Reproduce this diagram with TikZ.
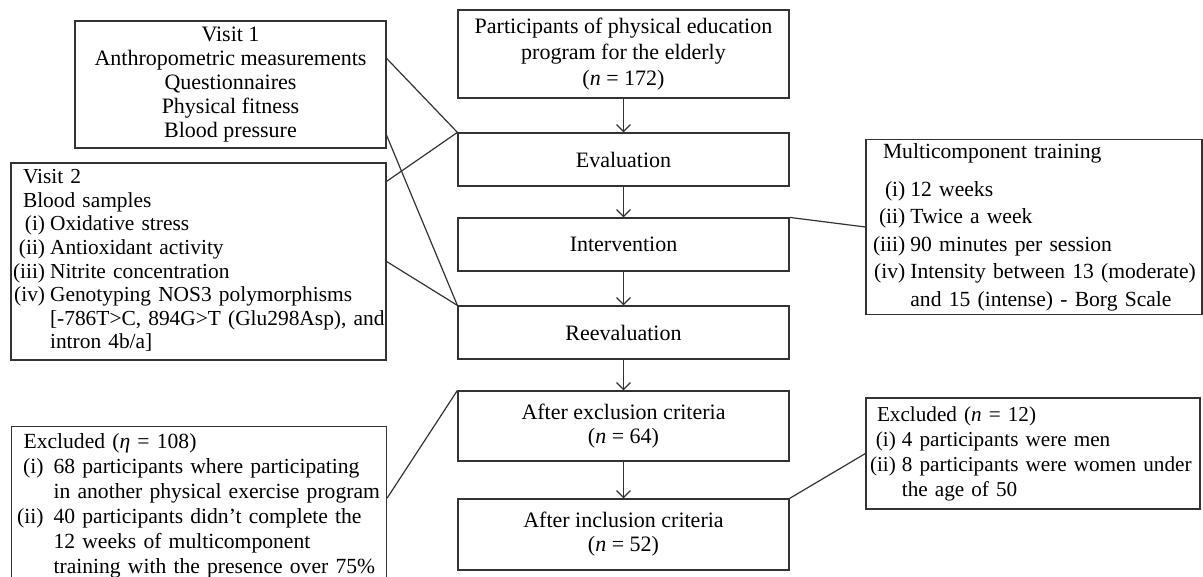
\documentclass[tikz,border=0pt]{standalone}
\usepackage{fontspec}
\setmainfont{Liberation Serif}
\usetikzlibrary{arrows.meta, calc}
\definecolor{CLine}{HTML}{333333}

\tikzset{
  flowbox/.style={draw=CLine, line width=0.6pt, inner sep=0pt, minimum width=165.5pt,
    align=center, font=\fontsize{11}{12}\selectfont},
  sidebox/.style={draw=CLine, line width=0.6pt, inner xsep=0pt, inner ysep=0pt,
    font=\fontsize{11}{12}\selectfont},
  flowarrow/.style={-{Straight Barb[length=3.5pt,width=7pt]}, CLine, line width=0.6pt},
  linkline/.style={CLine, line width=0.6pt}
}

\begin{document}
\begin{tikzpicture}[x=0.5pt, y=-0.5pt]
    \useasboundingbox (0,0) rectangle (1203,577);
    \clip (0,0) rectangle (1203,577);

    % Main column
    \node[flowbox, minimum height=44pt, font=\fontsize{11}{13}\selectfont] (part) at (623.5,54)
        {Participants of physical education\\program for the elderly\\(\textit{n} = 172)};
    \node[flowbox, minimum height=26.5pt] (eval) at (623.5,159.5) {Evaluation};
    \node[flowbox, minimum height=26.5pt] (interv) at (623.5,244.5) {Intervention};
    \node[flowbox, minimum height=26.5pt] (reeval) at (623.5,332.5) {Reevaluation};
    \node[flowbox, minimum height=35pt] (afterex) at (623.5,426)
        {After exclusion criteria\\(\textit{n} = 64)};
    \node[flowbox, minimum height=35.5pt] (afterin) at (623.5,534.5)
        {After inclusion criteria\\(\textit{n} = 52)};

    \draw[flowarrow] (part) -- (eval);
    \draw[flowarrow] (eval) -- (interv);
    \draw[flowarrow] (interv) -- (reeval);
    \draw[flowarrow] (reeval) -- (afterex);
    \draw[flowarrow] (afterex) -- (afterin);

    % Visits (left)
    \node[flowbox, minimum width=155.5pt, minimum height=63.5pt] (visit1) at (230.5,84.5)
        {Visit 1\\Anthropometric measurements\\Questionnaires\\Physical fitness\\Blood pressure};
    \node[sidebox, text width=187.5pt, minimum height=98.5pt,
        font=\fontsize{10.7}{11.8}\selectfont] (visit2) at (198.5,261.5) {%
        \begin{tabular}{@{\hspace{1pt}}r@{\hspace{2.5pt}}l@{}}
        \multicolumn{2}{@{\hspace{6pt}}l@{}}{Visit 2}\\
        \multicolumn{2}{@{\hspace{6pt}}l@{}}{Blood samples}\\
        (i) & Oxidative stress\\
        (ii) & Antioxidant activity\\
        (iii) & Nitrite concentration\\
        (iv) & Genotyping NOS3 polymorphisms\\
         & [-786T>C, 894G>T (Glu298Asp), and\\
         & intron 4b/a]
        \end{tabular}};

    % Excluded (left)
    \node[sidebox, text width=187.5pt, inner ysep=2pt, anchor=north west,
        font=\fontsize{10.8}{12.5}\selectfont] (exclL) at (11,426) {%
        \begin{tabular}{@{\hspace{2.8pt}}r@{\hspace{5pt}}l@{}}
        \multicolumn{2}{@{\hspace{6pt}}l@{}}{Excluded (\textit{η} = 108)}\\
        (i) & 68 participants where participating\\
         & in another physical exercise program\\
        (ii) & 40 participants didn’t complete the\\
         & 12 weeks of multicomponent\\
         & training with the presence over 75\%
        \end{tabular}};

    % Training (right)
    \node[sidebox, text width=168pt, minimum height=86pt,
        font=\fontsize{10.8}{13.75}\selectfont] (multi) at (1034,227) {%
        \begin{tabular}{@{\hspace{3.5pt}}r@{\hspace{2.5pt}}l@{}}
        \multicolumn{2}{@{\hspace{8.5pt}}l@{}}{Multicomponent training}\\[5pt]
        (i) & 12 weeks\\
        (ii) & Twice a week\\
        (iii) & 90 minutes per session\\
        (iv) & Intensity between 13 (moderate)\\
         & and 15 (intense) - Borg Scale
        \end{tabular}};

    % Excluded (right)
    \node[sidebox, text width=167pt, minimum height=55.5pt,
        font=\fontsize{10.6}{12.5}\selectfont] (exclR) at (1033,453.5) {%
        \begin{tabular}{@{\hspace{2pt}}r@{\hspace{3pt}}l@{}}
        \multicolumn{2}{@{\hspace{5.5pt}}l@{}}{Excluded (\textit{n} = 12)}\\
        (i) & 4 participants were men\\
        (ii) & 8 participants were women under\\
         & the age of 50
        \end{tabular}};

    % Links
    \draw[linkline] ([yshift=-19pt]visit1.north east) -- (eval.north west);
    \draw[linkline] ([yshift=-57.5pt]visit1.north east) -- (reeval.north west);
    \draw[linkline] ([yshift=-9.5pt]visit2.north east) -- (eval.north west);
    \draw[linkline] (visit2.east) -- (reeval.north west);
    \draw[linkline] ([yshift=-36pt]exclL.north east) -- (afterex.north west);
    \draw[linkline] (interv.north east) -- (multi.west);
    \draw[linkline] (afterin.north east) -- (exclR.west);
\end{tikzpicture}
\end{document}
